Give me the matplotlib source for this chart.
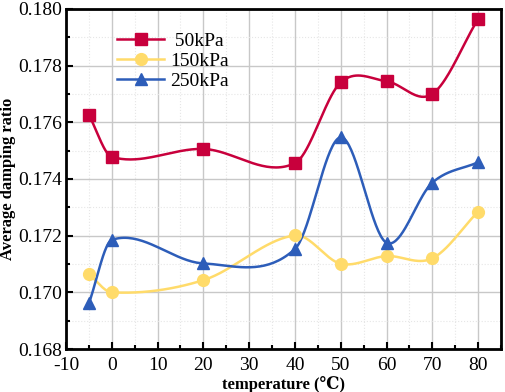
import numpy as np
import matplotlib
matplotlib.use("Agg")
import matplotlib.pyplot as plt
from matplotlib.ticker import MultipleLocator, FormatStrFormatter

plt.rcParams['font.family'] = ['Liberation Serif', 'DejaVu Serif']
plt.rcParams['axes.unicode_minus'] = False

temps = [-5, 0, 20, 40, 50, 60, 70, 80]
ratio_50 = [0.17626, 0.17478, 0.17506, 0.17456, 0.17741, 0.17745, 0.17700, 0.17965]
ratio_150 = [0.17064, 0.17000, 0.17043, 0.17201, 0.17101, 0.17128, 0.17120, 0.17285]
ratio_250 = [0.16961, 0.17185, 0.17102, 0.17153, 0.17547, 0.17175, 0.17387, 0.17459]
labels = [' 50kPa', '150kPa', '250kPa']


def smooth(x, y, n=40):
    # cubic hermite with catmull-rom style slopes, only for drawing the line
    x = np.asarray(x, float)
    y = np.asarray(y, float)
    m = np.zeros(len(x))
    m[1:-1] = (y[2:] - y[:-2]) / (x[2:] - x[:-2])
    m[0] = (y[1] - y[0]) / (x[1] - x[0])
    m[-1] = (y[-1] - y[-2]) / (x[-1] - x[-2])
    xs_all, ys_all = [], []
    for i in range(len(x) - 1):
        h = x[i + 1] - x[i]
        t = np.linspace(0, 1, n)
        h00 = 2 * t**3 - 3 * t**2 + 1
        h10 = t**3 - 2 * t**2 + t
        h01 = -2 * t**3 + 3 * t**2
        h11 = t**3 - t**2
        xs_all.append(x[i] + t * h)
        ys_all.append(h00 * y[i] + h10 * h * m[i] + h01 * y[i + 1] + h11 * h * m[i + 1])
    return np.concatenate(xs_all), np.concatenate(ys_all)


fig = plt.figure(figsize=(5.05, 3.92), dpi=100)
ax = fig.add_axes([66 / 505, 43 / 392, 435 / 505, 340 / 392])

series = [(ratio_50, '#C8003C', 's', 8),
          (ratio_150, '#FFDB6A', 'o', 8.5),
          (ratio_250, '#2D5DB9', '^', 9)]
handles = []
for (vals, col, mk, ms), lab in zip(series, labels):
    xs, ys = smooth(temps, vals)
    ax.plot(xs, ys, color=col, lw=1.8, zorder=3)
    ax.plot(temps, vals, ls='none', marker=mk, ms=ms, color=col, zorder=4)
    h, = ax.plot([], [], color=col, lw=1.8, marker=mk, ms=ms, label=lab)
    handles.append(h)

ax.set_xlim(-10, 85)
ax.set_ylim(0.168, 0.180)
ax.xaxis.set_major_locator(MultipleLocator(10))
ax.xaxis.set_minor_locator(MultipleLocator(5))
ax.yaxis.set_major_locator(MultipleLocator(0.002))
ax.yaxis.set_minor_locator(MultipleLocator(0.001))
ax.yaxis.set_major_formatter(FormatStrFormatter('%.3f'))

ax.grid(which='major', color='#c8c8c8', lw=1.0)
ax.grid(which='minor', color='#e6e6e6', lw=0.8, ls=':')
ax.set_axisbelow(True)

ax.tick_params(which='both', direction='in', labelsize=14, width=1.5)
ax.tick_params(which='major', length=5)
ax.tick_params(which='minor', length=3)
ax.tick_params(axis='x', pad=6)
ax.tick_params(axis='y', pad=3)
for s in ax.spines.values():
    s.set_linewidth(2)

ax.set_xlabel('temperature (\u2103)', fontsize=12, fontweight='bold', labelpad=1)
ax.set_ylabel('Average damping ratio', fontsize=12, fontweight='bold', labelpad=1)

ax.legend(handles=handles, loc='upper left', bbox_to_anchor=(0.1, 0.955),
          frameon=False, fontsize=14, handlelength=2.4, handletextpad=0.3,
          labelspacing=0.12, borderaxespad=0)

fig.savefig('out.png', dpi=100)
